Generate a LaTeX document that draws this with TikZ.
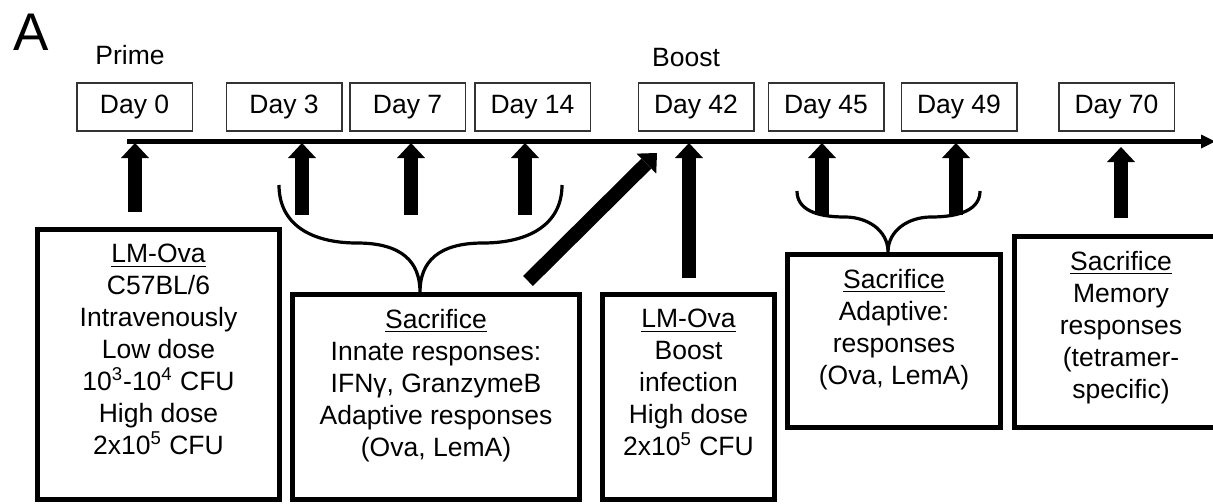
\documentclass[tikz,border=0pt]{standalone}
\usepackage{fontspec}
\setmainfont{Liberation Sans}
\usetikzlibrary{arrows.meta, positioning}

\newcommand{\lblfont}{\fontsize{13.25pt}{16pt}\selectfont}

\begin{document}
\begin{tikzpicture}[x=0.5pt, y=-0.5pt,
    day/.style={draw=black!80, line width=0.75pt, minimum width=57.75pt,
                minimum height=24pt, inner sep=0pt, font=\lblfont},
    bx/.style={draw, line width=2.4pt, anchor=north west, inner sep=0pt},
    bxtxt/.style={align=center, inner sep=0pt, font=\lblfont},
    lbl/.style={inner sep=0pt, anchor=base, font=\lblfont},
    up/.style={line width=7pt, -{Triangle[length=7.5pt, width=14pt, line width=0pt]}},
    tl/.style={line width=2.2pt, -{Triangle[length=7pt, width=7pt, line width=0pt]}},
    brc/.style={line width=1.6pt},
]
\useasboundingbox (0,0) rectangle (1213,503);

% === PANEL LETTER + PHASE LABELS ===
\node[inner sep=0pt, anchor=base west, font=\fontsize{26.5pt}{30pt}\selectfont] (pA) at (13,50) {A};
\node[lbl] (prime) at (130,64.5) {Prime};
\node[lbl] (boost) at (686,66.5) {Boost};

% === DAY BOXES ===
\node[day] (d0) at (134.5,107) {Day 0};
\node[day, right=16.25pt of d0] (d3) {Day 3};
\node[day, right=3.25pt of d3] (d7) {Day 7};
\node[day, right=4pt of d7] (d14) {Day 14};
\node[day, right=23.25pt of d14] (d42) {Day 42};
\node[day, right=6.5pt of d42] (d45) {Day 45};
\node[day, right=8pt of d45] (d49) {Day 49};
\node[day, right=20.25pt of d49] (d70) {Day 70};

% === TIMELINE ===
\coordinate (tlS) at (127,141.5);
\coordinate (tlE) at (1215,141.5);
\draw[tl] (tlS) -- (tlE);

% tips on the timeline
\coordinate (t0) at (135,143);
\coordinate (t3) at (302,143);
\coordinate (t7) at (411,143);
\coordinate (t14) at (525,143);
\coordinate (t42) at (689,143);
\coordinate (t45) at (822,143);
\coordinate (t49) at (956,143);
\coordinate (t70) at (1121,147);

\draw[up] (t0 |- 0,212) -- (t0);
\draw[up] (t3 |- 0,215) -- (t3);
\draw[up] (t7 |- 0,215) -- (t7);
\draw[up] (t14 |- 0,215) -- (t14);
\draw[up] (t42 |- 0,278) -- (t42);
\draw[up] (t45 |- 0,215) -- (t45);
\draw[up] (t49 |- 0,215) -- (t49);
\draw[up] (t70 |- 0,218) -- (t70);

% === BOXES BELOW ===
\node[bx, minimum width=121.1pt, minimum height=135.1pt] (lm1) at (35,227) {};
\node[bxtxt, below=8.5pt of lm1.north] (lm1t)
    {\underline{LM-Ova}\\C57BL/6\\Intravenously\\Low dose\\
     10\textsuperscript{3}-10\textsuperscript{4} CFU\\High dose\\2x10\textsuperscript{5} CFU};

\node[bx, minimum width=143.6pt, minimum height=102.6pt] (sac1) at (290,292) {};
\node[bxtxt, below=8.5pt of sac1.north] (sac1t)
    {\underline{Sacrifice}\\Innate responses:\\IFNγ, GranzymeB\\Adaptive responses\\(Ova, LemA)};

\node[bx, minimum width=86.1pt, minimum height=102.6pt] (lm2) at (600,292) {};
\node[bxtxt, below=8.5pt of lm2.north] (lm2t)
    {\underline{LM-Ova}\\Boost\\infection\\High dose\\2x10\textsuperscript{5} CFU};

\node[bx, minimum width=106.6pt, minimum height=86.6pt] (sac2) at (785,252) {};
\node[bxtxt, below=8.5pt of sac2.north] (sac2t)
    {\underline{Sacrifice}\\Adaptive:\\responses\\(Ova, LemA)};

\node[bx, minimum width=106.6pt, minimum height=95.6pt] (sac3) at (1012,234) {};
\node[bxtxt, below=8.5pt of sac3.north] (sac3t)
    {\underline{Sacrifice}\\Memory\\responses\\(tetramer-\\specific)};

% === BRACES ===
\coordinate (br1L) at (279,185);
\coordinate (br1C) at (420,292);
\coordinate (br1R) at (562,185);
\draw[brc] (br1L) .. controls +(0,40) and +(-45,0) .. (357,243)
                  .. controls +(45,0) and +(0,-30) .. (br1C)
                  .. controls +(0,-30) and +(-45,0) .. (483,243)
                  .. controls +(45,0) and +(0,40) .. (br1R);

\coordinate (br2L) at (797,191);
\coordinate (br2C) at (888,252);
\coordinate (br2R) at (980,191);
\draw[brc] (br2L) .. controls +(0,18) and +(-30,0) .. (845,217)
                  .. controls +(22,0) and +(0,-22) .. (br2C)
                  .. controls +(0,-22) and +(-22,0) .. (931,217)
                  .. controls +(30,0) and +(0,18) .. (br2R);

% === DIAGONAL ARROW (sacrifice -> boost) ===
\coordinate (dgS) at (528,281);
\coordinate (dgE) at (657,153);
\draw[up] (dgS) -- (dgE);

\end{tikzpicture}
\end{document}
